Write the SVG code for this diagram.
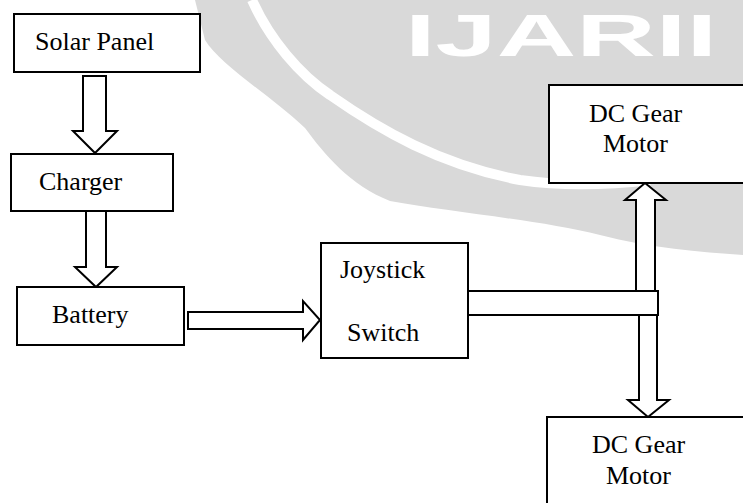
<svg xmlns="http://www.w3.org/2000/svg" width="743" height="503" viewBox="0 0 743 503">
<style>
.box{fill:#fff;stroke:#000;stroke-width:2}
.arr{fill:#fff;stroke:#000;stroke-width:2;stroke-linejoin:miter}
.lbl{font-family:"Liberation Serif","Times New Roman",serif;font-size:26px;fill:#000}
</style>
<rect width="743" height="503" fill="#fff"/>
<g id="watermark">
<path d="M195,0 L743,0 L743,255 C700,252 650,248 600,235 C540,220 450,212 390,201 C350,185 325,155 305,128 C270,95 220,65 205,40 Z" fill="#d9d9d9"/>
<path d="M252,0 C270,40 300,75 330,95 C380,130 440,165 520,180 C560,186 600,186 650,180" fill="none" stroke="#fff" stroke-width="10"/>
<text x="405" y="56" font-family="Liberation Sans, Arial, sans-serif" font-size="60" font-weight="bold" fill="#fff" textLength="312" lengthAdjust="spacingAndGlyphs">IJARII</text>
</g>
<g id="connectors">
<polygon class="arr" points="83,76 106,76 106,131 117,131 95,153 73,131 83,131"/>
<polygon class="arr" points="86,211 106,211 106,267 117,267 96,287 75,267 86,267"/>
<polygon class="arr" points="188,312 303,312 303,301 320,320 303,340 303,329 188,329"/>
<path class="arr" d="M468,291 H658 V315 H468"/>
<polygon class="arr" points="636,291 636,200 625,200 645,183 666,200 655,200 655,291"/>
<polygon class="arr" points="639,315 639,400 628,400 648,417 669,400 657,400 657,315"/>
</g>
<g id="solar">
<rect class="box" x="14" y="14" width="186" height="58"/>
<text class="lbl" x="35" y="50">Solar Panel</text>
</g>
<g id="charger">
<rect class="box" x="11" y="154" width="162" height="57"/>
<text class="lbl" x="39" y="190">Charger</text>
</g>
<g id="battery">
<rect class="box" x="17" y="287" width="167" height="58"/>
<text class="lbl" x="52" y="323">Battery</text>
</g>
<g id="joystick">
<rect class="box" x="321" y="243" width="147" height="115"/>
<text class="lbl" x="340" y="278">Joystick</text>
<text class="lbl" x="347" y="341">Switch</text>
</g>
<g id="motor1">
<rect class="box" x="549" y="85" width="200" height="98"/>
<text class="lbl" x="589" y="122">DC Gear</text>
<text class="lbl" x="603" y="152">Motor</text>
</g>
<g id="motor2">
<rect class="box" x="547" y="417" width="200" height="100"/>
<text class="lbl" x="592" y="453">DC Gear</text>
<text class="lbl" x="606" y="484">Motor</text>
</g>
</svg>
